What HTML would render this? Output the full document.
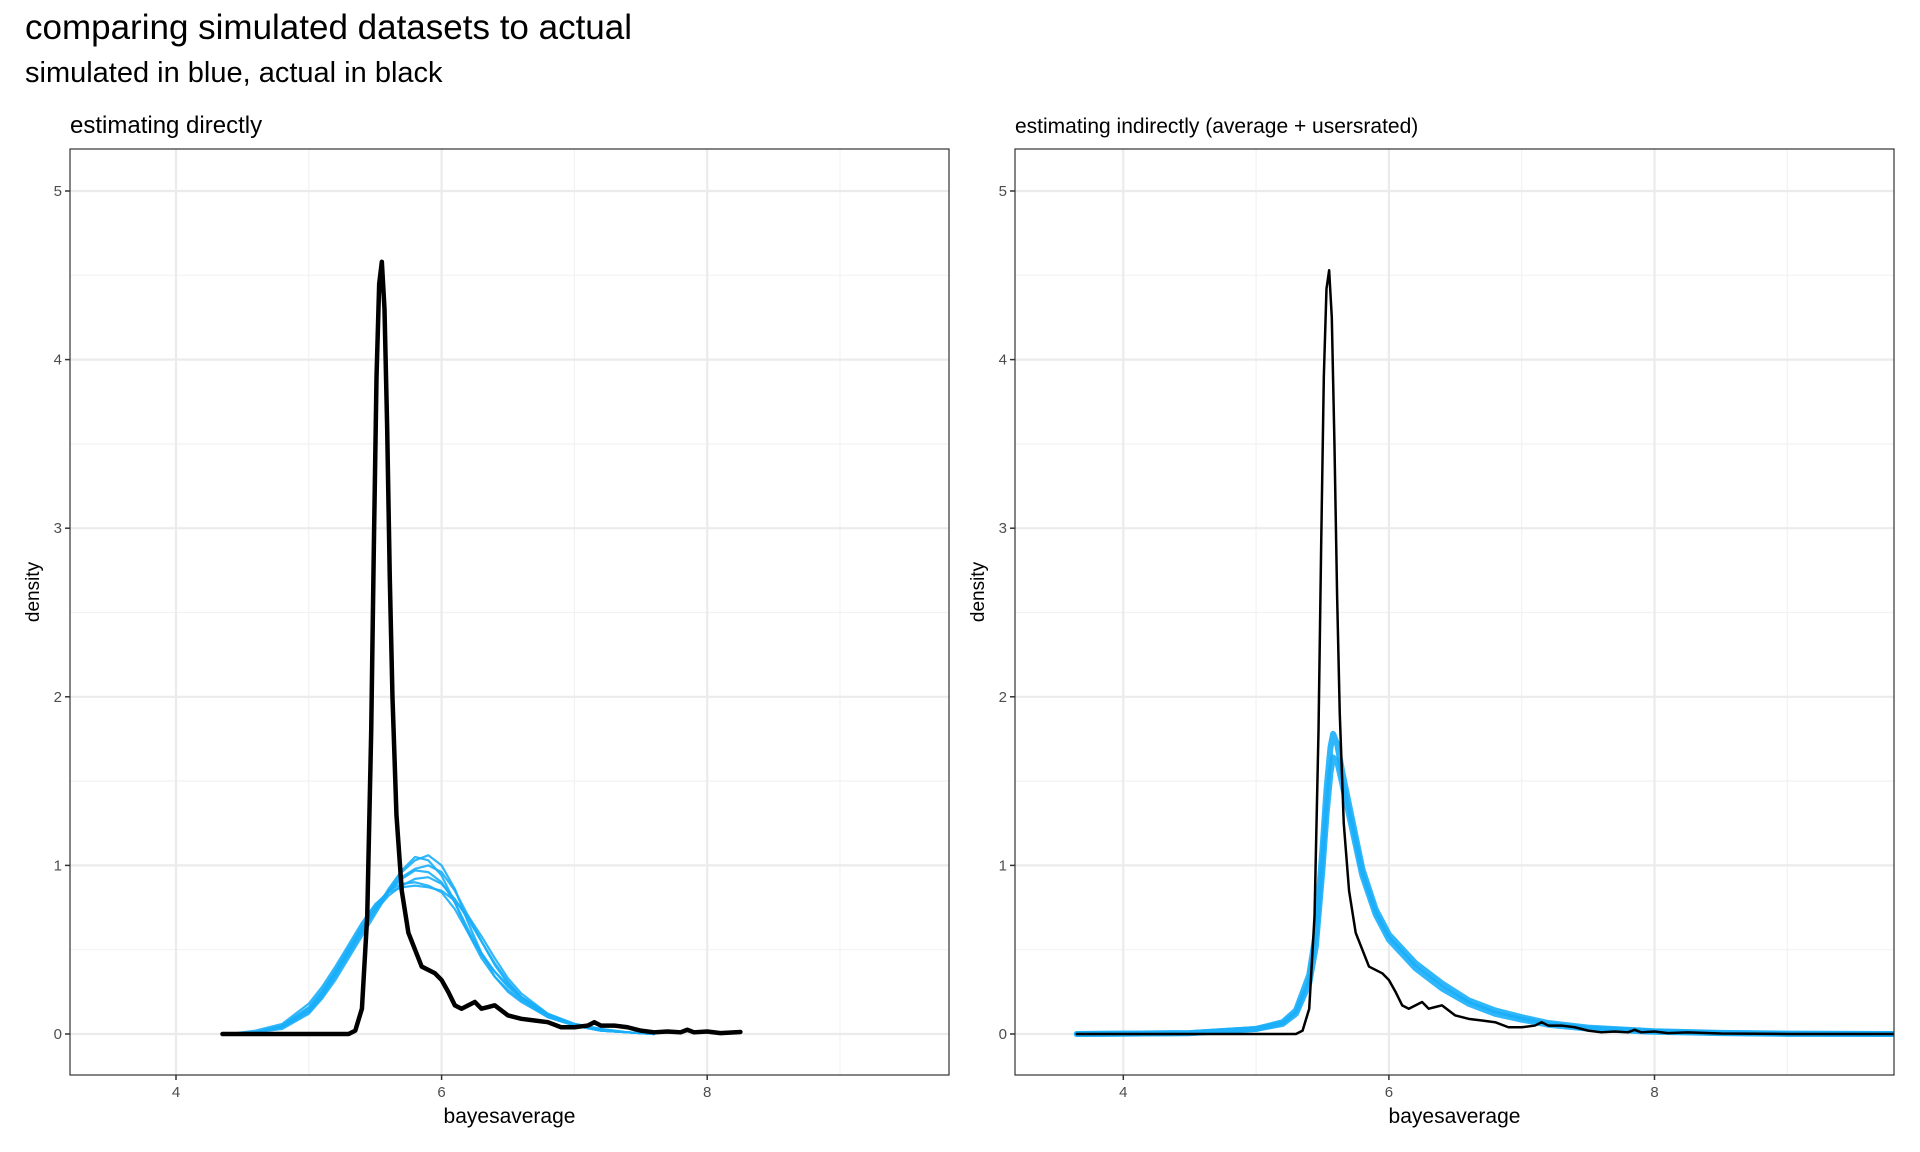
<!DOCTYPE html>
<html><head><meta charset="utf-8">
<style>
body{margin:0;background:#fff;}
svg{display:block;font-family:"Liberation Sans",Arial,sans-serif;}
</style></head>
<body>
<svg id="chart" width="1920" height="1152" viewBox="0 0 1920 1152">
<text x="25" y="39" font-size="35" fill="#000">comparing simulated datasets to actual</text>
<text x="25" y="82" font-size="29" fill="#000">simulated in blue, actual in black</text>
<g id="p1"></g>
<g id="p2"></g>
</svg>
<script>
// ---- data ----
const xTicks = [4, 6, 8];
const yTicks = [0, 1, 2, 3, 4, 5];
const actualX = [4.35,5.3,5.35,5.4,5.44,5.47,5.49,5.51,5.53,5.55,5.57,5.59,5.61,5.63,5.66,5.7,5.75,5.8,5.85,5.95,6.0,6.05,6.1,6.15,6.2,6.25,6.3,6.35,6.4,6.5,6.6,6.7,6.8,6.9,7.0,7.1,7.15,7.2,7.3,7.4,7.5,7.6,7.7,7.8,7.85,7.9,8.0,8.1,8.25];
const actualY = [0,0,0.02,0.15,0.7,1.8,2.9,3.9,4.45,4.58,4.3,3.6,2.7,2.0,1.3,0.85,0.6,0.5,0.4,0.36,0.32,0.25,0.17,0.15,0.17,0.19,0.15,0.16,0.17,0.11,0.09,0.08,0.07,0.04,0.04,0.05,0.07,0.05,0.05,0.04,0.02,0.01,0.015,0.01,0.025,0.01,0.015,0.005,0.012];
const actual2X = [3.65,5.3,5.35,5.4,5.44,5.47,5.49,5.51,5.53,5.55,5.57,5.59,5.61,5.63,5.66,5.7,5.75,5.8,5.85,5.95,6.0,6.05,6.1,6.15,6.2,6.25,6.3,6.35,6.4,6.5,6.6,6.7,6.8,6.9,7.0,7.1,7.15,7.2,7.3,7.4,7.5,7.6,7.7,7.8,7.85,7.9,8.0,8.1,8.25,8.5,9.0,9.8];
const actual2Y = [0,0,0.02,0.15,0.7,1.8,2.9,3.9,4.42,4.53,4.25,3.5,2.6,1.9,1.25,0.85,0.6,0.5,0.4,0.36,0.32,0.25,0.17,0.15,0.17,0.19,0.15,0.16,0.17,0.11,0.09,0.08,0.07,0.04,0.04,0.05,0.07,0.05,0.05,0.04,0.02,0.01,0.015,0.01,0.025,0.01,0.015,0.005,0.01,0.003,0,0];
const simX = [4.4,4.6,4.8,5.0,5.1,5.2,5.3,5.4,5.5,5.6,5.7,5.8,5.9,6.0,6.1,6.2,6.3,6.4,6.5,6.6,6.8,7.0,7.2,7.4,7.6];
const sim1 = [0,0.01,0.04,0.14,0.24,0.36,0.49,0.62,0.74,0.84,0.92,0.97,0.96,0.9,0.78,0.62,0.48,0.37,0.28,0.21,0.11,0.05,0.02,0.01,0];
const sim2 = [0,0.01,0.05,0.16,0.26,0.38,0.51,0.64,0.76,0.85,0.89,0.9,0.88,0.84,0.74,0.6,0.47,0.37,0.29,0.22,0.12,0.06,0.03,0.01,0];
const sim3 = [0,0.01,0.04,0.13,0.22,0.34,0.47,0.6,0.73,0.86,0.97,1.05,1.03,0.94,0.78,0.6,0.45,0.34,0.26,0.2,0.1,0.05,0.02,0.01,0];
const sim4 = [0,0.01,0.05,0.15,0.25,0.37,0.5,0.63,0.75,0.85,0.93,0.98,1.0,0.96,0.85,0.7,0.55,0.41,0.3,0.22,0.11,0.05,0.02,0.01,0];
const sim5 = [0,0.01,0.04,0.14,0.23,0.35,0.48,0.61,0.73,0.82,0.88,0.92,0.93,0.89,0.8,0.68,0.55,0.42,0.31,0.22,0.11,0.05,0.02,0.01,0];
const sim6 = [0,0.02,0.06,0.18,0.28,0.4,0.53,0.66,0.77,0.84,0.87,0.88,0.87,0.85,0.79,0.7,0.58,0.45,0.33,0.24,0.12,0.06,0.03,0.01,0];
const sim7 = [0,0.01,0.03,0.12,0.21,0.32,0.45,0.58,0.71,0.84,0.96,1.03,1.06,1.0,0.86,0.66,0.48,0.34,0.25,0.19,0.1,0.05,0.02,0.01,0];
const sim2X = [3.65,4.5,5.0,5.2,5.3,5.4,5.45,5.5,5.53,5.56,5.58,5.61,5.65,5.7,5.8,5.9,6.0,6.2,6.4,6.6,6.8,7.0,7.2,7.5,8.0,8.5,9.0,9.8];
const simA = [0,0.005,0.03,0.07,0.14,0.35,0.6,1.1,1.45,1.7,1.78,1.72,1.55,1.36,0.98,0.74,0.59,0.42,0.3,0.2,0.14,0.1,0.065,0.038,0.016,0.007,0.002,0];
const simB = [0,0.005,0.03,0.06,0.12,0.3,0.52,0.98,1.3,1.55,1.64,1.62,1.48,1.3,0.94,0.71,0.56,0.39,0.27,0.18,0.12,0.085,0.055,0.032,0.013,0.005,0.001,0];

// ---- layout ----
const NS = "http://www.w3.org/2000/svg";
const Y0 = 1034, YS = 168.6, TOP = 149, BOT = 1075, XS = 132.8;
function mk(parent, tag, attrs){const e=document.createElementNS(NS,tag);for(const k in attrs)e.setAttribute(k,attrs[k]);parent.appendChild(e);return e;}
function panel(g, left, right, x4, title, titleSize, black, blackW, sims, simW, sx){
  const X = v => x4 + (v-4)*XS;
  const Y = v => Y0 - v*YS;
  const bg = mk(g,'rect',{x:left,y:TOP,width:right-left,height:BOT-TOP,fill:'#fff'});
  
  
  for(let v=3; v<=10; v+=2){const px=X(v); if(px>left&&px<right){const l=mk(g,'line',{x1:px,x2:px,y1:TOP,y2:BOT,stroke:'#f2f2f2','stroke-width':1.2});
    
    }}
  for(let v=0.5; v<5.3; v+=1){const l=mk(g,'line',{x1:left,x2:right,y1:Y(v),y2:Y(v),stroke:'#f2f2f2','stroke-width':1.2});
    
    }
  xTicks.forEach(v=>{const l=mk(g,'line',{x1:X(v),x2:X(v),y1:TOP,y2:BOT,stroke:'#ebebeb','stroke-width':2.2});
    
    
    const t=mk(g,'line',{x1:X(v),x2:X(v),y1:BOT,y2:BOT+5,stroke:'#333','stroke-width':1.5});
    
    
    const tx=mk(g,'text',{x:X(v),y:BOT+22,'font-size':15,fill:'#4d4d4d','text-anchor':'middle'});tx.textContent=v;
    
    });
  yTicks.forEach(v=>{const l=mk(g,'line',{x1:left,x2:right,y1:Y(v),y2:Y(v),stroke:'#ebebeb','stroke-width':2.2});
    
    
    const t=mk(g,'line',{x1:left-5,x2:left,y1:Y(v),y2:Y(v),stroke:'#333','stroke-width':1.5});
    
    
    const tx=mk(g,'text',{x:left-8,y:Y(v)+5,'font-size':15,fill:'#4d4d4d','text-anchor':'end'});tx.textContent=v;
    
    });
  const cp = 'clip'+left;
  const c = mk(g,'clipPath',{id:cp}); mk(c,'rect',{x:left,y:TOP,width:right-left,height:BOT-TOP});
  const lines = mk(g,'g',{'clip-path':'url(#'+cp+')'});
  sims.forEach(s=>{const p=mk(lines,'polyline',{points:sx.map((x,i)=>X(x)+','+Y(s[i])).join(' '),fill:'none',stroke:'#1aaefa','stroke-width':simW,'stroke-linejoin':'round','stroke-linecap':'round','stroke-opacity':0.9});
    
    });
  const b=mk(lines,'polyline',{points:black[0].map((x,i)=>X(x)+','+Y(black[1][i])).join(' '),fill:'none',stroke:'#000','stroke-width':blackW,'stroke-linejoin':'round','stroke-linecap':'round'});
  
  
  const br=mk(g,'rect',{x:left,y:TOP,width:right-left,height:BOT-TOP,fill:'none',stroke:'#333','stroke-width':1.2});
  
  
  const tt=mk(g,'text',{x:left,y:133,'font-size':titleSize,fill:'#000'});tt.textContent=title;
  
  
  const xt=mk(g,'text',{x:(left+right)/2,y:1123,'font-size':21,fill:'#000','text-anchor':'middle'});xt.textContent='bayesaverage';
  
  
  const yx=left-31, yy=(TOP+BOT)/2-20;
  const yt=mk(g,'text',{x:yx,y:yy,'font-size':19,fill:'#000','text-anchor':'middle',transform:'rotate(-90 '+yx+' '+yy+')'});yt.textContent='density';
  
  
}
panel(document.getElementById('p1'),70,949,176,'estimating directly',24,[actualX,actualY],4.5,[sim1,sim2,sim3,sim4,sim5,sim6,sim7],2.2,simX);
panel(document.getElementById('p2'),1015,1894,1123.3,'estimating indirectly (average + usersrated)',21,[actual2X,actual2Y],2.5,[simA,simB],6,sim2X);
</script>
</body></html>
